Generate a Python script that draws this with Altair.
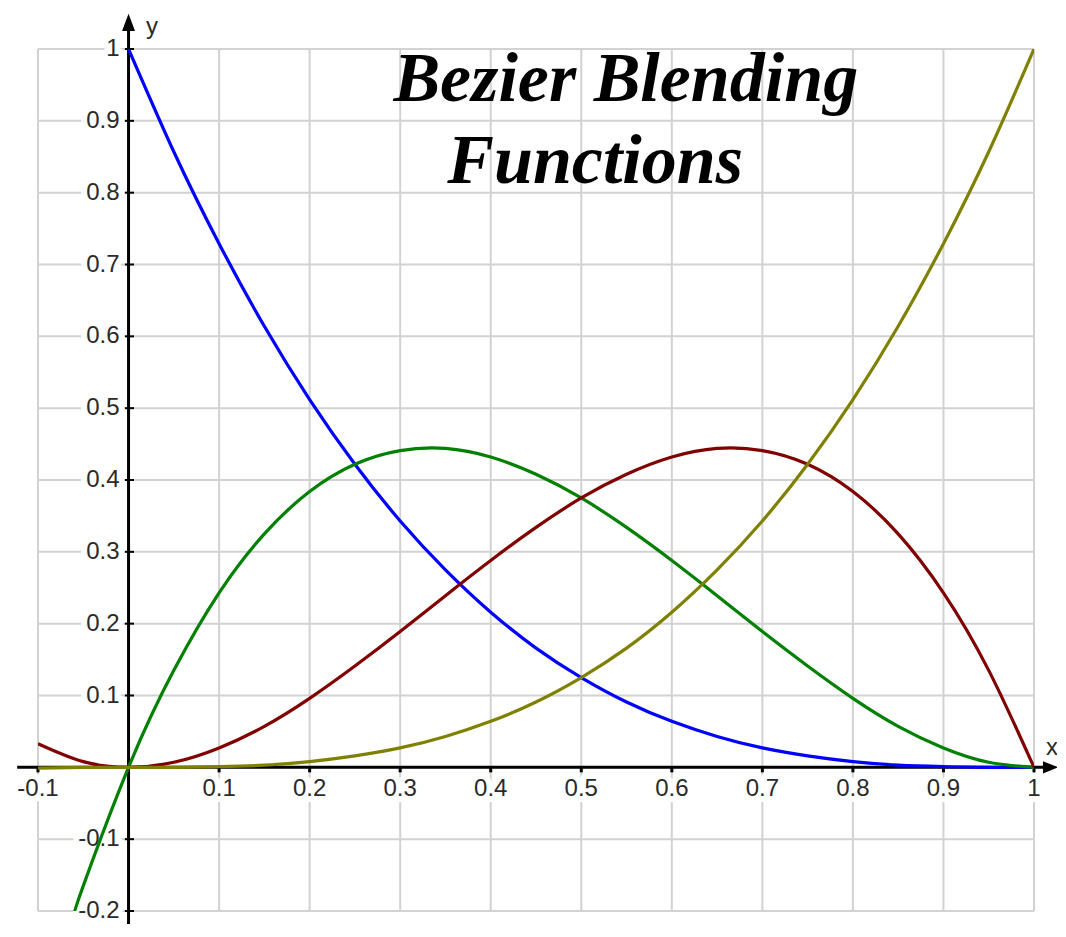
import altair as alt
import pandas as pd

# ---- data ----
x_vals = [-0.1, -0.05, 0.0, 0.05, 0.1, 0.15, 0.2, 0.25, 0.3, 0.35, 0.4, 0.45,
          0.5, 0.55, 0.6, 0.65, 0.7, 0.75, 0.8, 0.85, 0.9, 0.95, 1.0]

blue_x = x_vals[2:]
blue_y = [1.0, 0.857, 0.729, 0.614, 0.512, 0.422, 0.343, 0.275, 0.216, 0.166,
          0.125, 0.091, 0.064, 0.043, 0.027, 0.016, 0.008, 0.003, 0.001, 0.0, 0.0]

green_x = [-0.06] + x_vals[1:]
green_y = [-0.204, -0.165, 0.0, 0.135, 0.243, 0.325, 0.384, 0.422, 0.441, 0.444,
           0.432, 0.408, 0.375, 0.334, 0.288, 0.239, 0.189, 0.141, 0.096, 0.057,
           0.027, 0.007, 0.0]

red_x = x_vals
red_y = [0.033, 0.008, 0.0, 0.007, 0.027, 0.057, 0.096, 0.141, 0.189, 0.239,
         0.288, 0.334, 0.375, 0.408, 0.432, 0.444, 0.441, 0.422, 0.384, 0.325,
         0.243, 0.135, 0.0]

olive_x = x_vals
olive_y = [-0.001, 0.0, 0.0, 0.0, 0.001, 0.003, 0.008, 0.016, 0.027, 0.043,
           0.064, 0.091, 0.125, 0.166, 0.216, 0.275, 0.343, 0.422, 0.512, 0.614,
           0.729, 0.857, 1.0]

x_ticks = [-0.1, 0.1, 0.2, 0.3, 0.4, 0.5, 0.6, 0.7, 0.8, 0.9, 1.0]
x_tick_labels = ["-0.1", "0.1", "0.2", "0.3", "0.4", "0.5", "0.6", "0.7", "0.8", "0.9", "1"]
y_ticks = [1.0, 0.9, 0.8, 0.7, 0.6, 0.5, 0.4, 0.3, 0.2, 0.1, -0.1, -0.2]
y_tick_labels = ["1", "0.9", "0.8", "0.7", "0.6", "0.5", "0.4", "0.3", "0.2", "0.1", "-0.1", "-0.2"]
grid_x = [-0.1, 0.0, 0.1, 0.2, 0.3, 0.4, 0.5, 0.6, 0.7, 0.8, 0.9, 1.0]
grid_y = [-0.2, -0.1, 0.0, 0.1, 0.2, 0.3, 0.4, 0.5, 0.6, 0.7, 0.8, 0.9, 1.0]

title_lines = ["Bezier Blending", "Functions"]

# ---- scales ----
XS = alt.Scale(domain=[-0.1, 1.0], nice=False, zero=False)
YS = alt.Scale(domain=[-0.2, 1.0], nice=False, zero=False)

W, H = 996, 862
LABEL_FONT = "Liberation Sans"
GRID = "#d2d2d2"


def X(field="x"):
    return alt.X(field, type="quantitative", scale=XS, axis=None)


def Y(field="y"):
    return alt.Y(field, type="quantitative", scale=YS, axis=None)


# grid lines
gv_df = pd.DataFrame({"x": grid_x, "y": [-0.2] * len(grid_x), "y2": [1.0] * len(grid_x)})
gh_df = pd.DataFrame({"y": grid_y, "x": [-0.1] * len(grid_y), "x2": [1.0] * len(grid_y)})
grid_v = alt.Chart(gv_df).mark_rule(color=GRID, strokeWidth=2, clip=False).encode(
    x=X(), y=Y(), y2="y2")
grid_h = alt.Chart(gh_df).mark_rule(color=GRID, strokeWidth=2, clip=False).encode(
    y=Y(), x=X(), x2="x2")

xl_df = pd.DataFrame({"x": x_ticks, "y": [0.0] * len(x_ticks), "t": x_tick_labels})
yl_df = pd.DataFrame({"x": [0.0] * len(y_ticks), "y": y_ticks, "t": y_tick_labels})

x_halo = alt.Chart(xl_df).mark_text(
    font=LABEL_FONT, fontSize=24, dy=22, baseline="middle", align="center",
    color="white", stroke="white", strokeWidth=12, strokeJoin="round"
).encode(x=X(), y=Y(), text="t:N")
x_lab = alt.Chart(xl_df).mark_text(
    font=LABEL_FONT, fontSize=24, dy=22, baseline="middle", align="center", color="#2a2a2a"
).encode(x=X(), y=Y(), text="t:N")

y_halo = alt.Chart(yl_df).mark_text(
    font=LABEL_FONT, fontSize=24, dx=-9, baseline="middle", align="right",
    color="white", stroke="white", strokeWidth=12, strokeJoin="round"
).encode(x=X(), y=Y(), text="t:N")
y_lab = alt.Chart(yl_df).mark_text(
    font=LABEL_FONT, fontSize=24, dx=-9, baseline="middle", align="right", color="#2a2a2a"
).encode(x=X(), y=Y(), text="t:N")

# axis lines
xaxis_df = pd.DataFrame({"x": [-0.123], "x2": [1.012], "y": [0.0]})
yaxis_df = pd.DataFrame({"x": [0.0], "y": [-0.225], "y2": [1.03]})
x_axis = alt.Chart(xaxis_df).mark_rule(color="black", strokeWidth=3, clip=False).encode(
    x=X(), x2="x2", y=Y())
y_axis = alt.Chart(yaxis_df).mark_rule(color="black", strokeWidth=3, clip=False).encode(
    x=X(), y=Y(), y2="y2")

xt_df = pd.DataFrame({"x": x_ticks, "y": [0.0] * len(x_ticks), "y2": [-0.007] * len(x_ticks)})
yt_df = pd.DataFrame({"x": [-0.004] * len(y_ticks), "x2": [0.006] * len(y_ticks), "y": y_ticks})
x_tk = alt.Chart(xt_df).mark_rule(color="black", strokeWidth=3, clip=False).encode(
    x=X(), y=Y(), y2="y2")
y_tk = alt.Chart(yt_df).mark_rule(color="black", strokeWidth=2, clip=False).encode(
    x=X(), x2="x2", y=Y())

arrow_r_df = pd.DataFrame({"x": [1.0183], "y": [0.0]})
arrow_u_df = pd.DataFrame({"x": [0.0], "y": [1.037]})
arrow_r = alt.Chart(arrow_r_df).mark_point(
    shape="M1,0L-1,-0.8L-1,0.8Z", size=230, filled=True, color="black", opacity=1, clip=False
).encode(x=X(), y=Y())
arrow_u = alt.Chart(arrow_u_df).mark_point(
    shape="M0,-1L-0.75,1L0.75,1Z", size=300, filled=True, color="black", opacity=1, clip=False
).encode(x=X(), y=Y())

axlab_df = pd.DataFrame({"x": [0.026, 1.02], "y": [1.03, 0.027], "t": ["y", "x"]})
ax_labels = alt.Chart(axlab_df).mark_text(
    font=LABEL_FONT, fontSize=24, color="#2a2a2a", baseline="middle", align="center", clip=False
).encode(x=X(), y=Y(), text="t:N")


# curves
def curve(xs, ys, color):
    df = pd.DataFrame({"x": xs, "y": ys})
    return alt.Chart(df).mark_line(color=color, strokeWidth=3.2, interpolate="natural",
                                   clip=True).encode(x=X(), y=Y(), order="x:Q")


c_blue = curve(blue_x, blue_y, "#0000ff")
c_green = curve(green_x, green_y, "#008000")
c_red = curve(red_x, red_y, "#800000")
c_olive = curve(olive_x, olive_y, "#808000")

# title
t_df = pd.DataFrame({"x": [0.2925, 0.352], "y": [0.928, 0.814], "t": title_lines})
title = alt.Chart(t_df).mark_text(
    font="Liberation Serif", fontSize=70, fontWeight="bold", fontStyle="italic",
    color="black", align="left", baseline="alphabetic"
).encode(x=X(), y=Y(), text="t:N")

chart = alt.layer(
    grid_v, grid_h, x_halo, y_halo, x_lab, y_lab, title,
    x_axis, y_axis, x_tk, y_tk, arrow_r, arrow_u, ax_labels,
    c_blue, c_green, c_red, c_olive,
).properties(
    width=W, height=H,
    padding={"left": 30, "top": 41, "right": 23, "bottom": 13},
    autosize=alt.AutoSizeParams(type="none"),
    background="white",
).configure_view(strokeWidth=0)

chart.save("out.html", embed_options={"renderer": "svg", "actions": False})
